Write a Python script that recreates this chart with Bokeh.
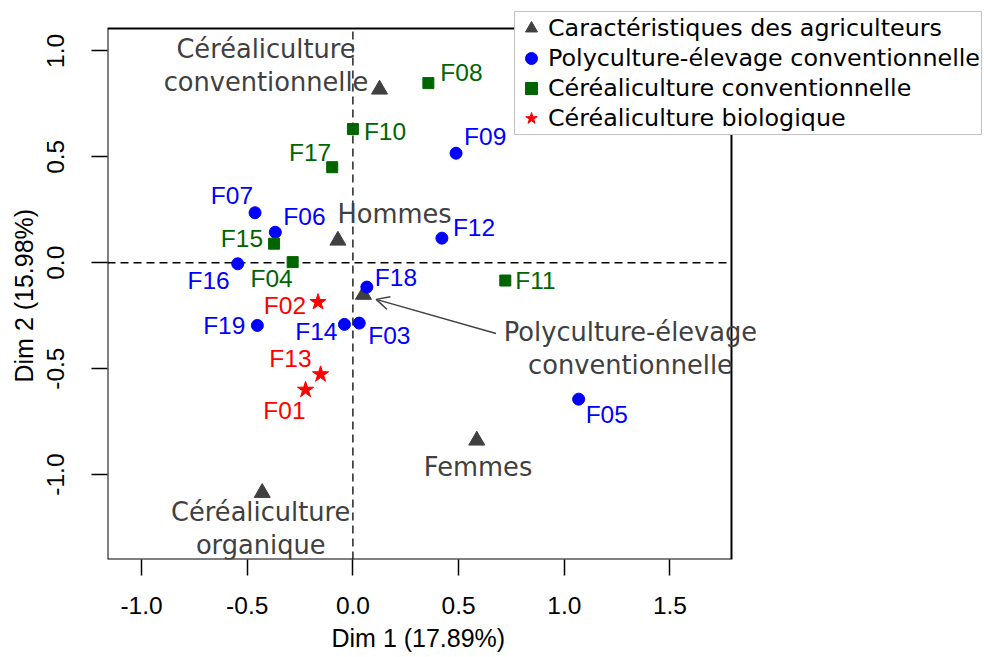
from bokeh.plotting import figure
from bokeh.models import (Range1d, FixedTicker, NumeralTickFormatter, Title,
                          Legend, LegendItem, LabelSet, ColumnDataSource, Arrow, OpenHead)
from bokeh.core.properties import value
from bokeh.embed import file_html
from bokeh.resources import INLINE

# ---------------- data ----------------
x_title = "Dim 1 (17.89%)"
y_title = "Dim 2 (15.98%)"
x_ticks = [-1.0, -0.5, 0.0, 0.5, 1.0, 1.5]
y_ticks = [-1.0, -0.5, 0.0, 0.5, 1.0]

series_labels = ["Caractéristiques des agriculteurs",
                 "Polyculture-élevage conventionnelle",
                 "Céréaliculture conventionnelle",
                 "Céréaliculture biologique"]

poly_names = ["F09", "F07", "F06", "F12", "F16", "F18", "F19", "F14", "F03", "F05"]
poly_x = [0.488, -0.463, -0.367, 0.421, -0.545, 0.066, -0.452, -0.040, 0.030, 1.068]
poly_y = [0.517, 0.236, 0.144, 0.116, -0.005, -0.115, -0.296, -0.291, -0.285, -0.644]

cconv_names = ["F08", "F10", "F17", "F15", "F04", "F11"]
cconv_x = [0.357, 0.000, -0.098, -0.373, -0.285, 0.721]
cconv_y = [0.848, 0.631, 0.451, 0.090, 0.003, -0.084]

bio_names = ["F02", "F13", "F01"]
bio_x = [-0.165, -0.153, -0.224]
bio_y = [-0.186, -0.527, -0.600]

char_names = ["Céréaliculture\nconventionnelle", "Hommes",
              "Polyculture-élevage\nconventionnelle", "Femmes",
              "Céréaliculture\norganique"]
char_x = [0.126, -0.071, 0.050, 0.586, -0.429]
char_y = [0.818, 0.105, -0.151, -0.839, -1.086]

# ---------------- styles / layout ----------------
C_CHAR = "#404040"
C_POLY = "#0000FF"
C_CCONV = "#006400"
C_BIO = "#FF0000"

# label placement: (align, dx px, dy px downwards)
LABEL_POS = {
    "F08": ("left", 12, -11), "F10": ("left", 11, 2), "F09": ("left", 8, -17),
    "F17": ("right", -1, -15), "F07": ("right", -2, -17), "F06": ("left", 8, -16),
    "F12": ("left", 11, -11), "F15": ("right", -11, -5), "F04": ("right", 0, 16),
    "F16": ("right", -8, 17), "F18": ("left", 8, -10), "F02": ("right", -12, 3),
    "F19": ("right", -12, 0), "F14": ("right", -7, 7), "F03": ("left", 9, 12),
    "F11": ("left", 10, 0), "F13": ("right", -9, -16), "F01": ("right", 0, 21),
    "F05": ("left", 7, 15),
}
# (dx, dy of first line) for the characteristic labels
CHAR_POS = [(-113.5, -40), (56.7, -26.7), (267, 37.4), (1.3, 26.7), (-1.5, 19.4)]
LINE_H = 32.5
ARROW = dict(x_start=0.677, y_start=-0.334, x_end=0.110, y_end=-0.173)

# plot box (data limits) and the wider drawing frame
BOX_X = (-1.161, 1.791)
BOX_Y = (-1.401, 1.106)
FRAME_X = (-1.161, 2.988)
FRAME_Y = (-1.401, 1.238)

p = figure(width=984, height=657,
           x_range=Range1d(*FRAME_X), y_range=Range1d(*FRAME_Y),
           output_backend="svg", toolbar_location=None,
           min_border_left=106, min_border_right=0, min_border_top=0, min_border_bottom=98,
           background_fill_color="white", border_fill_color="white",
           outline_line_color=None)
p.grid.visible = False

for ax in (p.xaxis[0], p.yaxis[0]):
    ax.axis_line_color = None
    ax.major_tick_out = 16
    ax.major_tick_in = 0
    ax.minor_tick_out = 0
    ax.minor_tick_in = 0
    ax.major_tick_line_color = "black"
    ax.major_tick_line_width = 1.5
    ax.major_label_text_font = "Liberation Sans"
    ax.major_label_text_font_size = "24.5px"
    ax.major_label_text_color = "black"
    ax.formatter = NumeralTickFormatter(format="0.0")

p.xaxis[0].major_label_standoff = 21
p.yaxis[0].major_label_standoff = 27
p.xaxis[0].ticker = FixedTicker(ticks=x_ticks)
p.yaxis[0].ticker = FixedTicker(ticks=y_ticks)
p.yaxis[0].major_label_orientation = "vertical"

# axis titles, positioned along the plot box
p.add_layout(Title(text=x_title, align="left", offset=224,
                   text_font="Liberation Sans", text_font_size="25px",
                   text_font_style="normal", text_color="black", standoff=10), "below")
p.add_layout(Title(text=y_title, align="left", offset=177,
                   text_font="Liberation Sans", text_font_size="25px",
                   text_font_style="normal", text_color="black", standoff=14), "left")

# plot box
p.quad(left=[BOX_X[0]], right=[BOX_X[1]], bottom=[BOX_Y[0]], top=[BOX_Y[1]],
       fill_alpha=0, line_color="black", line_width=2, level="underlay")

# dashed zero lines inside the box
p.segment(x0=[0, BOX_X[0]], y0=[BOX_Y[0], 0], x1=[0, BOX_X[1]], y1=[BOX_Y[1], 0],
          line_color="black", line_width=1.3, line_dash="8 5", level="underlay")

# points
r_char = p.scatter(char_x, char_y, marker="triangle", size=16, color=C_CHAR)
r_poly = p.scatter(poly_x, poly_y, marker="circle", size=12, color=C_POLY)
r_cconv = p.scatter(cconv_x, cconv_y, marker="square", size=11, color=C_CCONV)
r_bio = p.scatter(bio_x, bio_y, marker="star", size=17, color=C_BIO)

# point labels
lab = dict(x=[], y=[], t=[], c=[], dx=[], dy=[], al=[])
for names, xs, ys, col in ((poly_names, poly_x, poly_y, C_POLY),
                           (cconv_names, cconv_x, cconv_y, C_CCONV),
                           (bio_names, bio_x, bio_y, C_BIO)):
    for n, xv, yv in zip(names, xs, ys):
        al, dx, dy = LABEL_POS[n]
        lab["x"].append(xv); lab["y"].append(yv); lab["t"].append(n); lab["c"].append(col)
        lab["dx"].append(dx); lab["dy"].append(-dy); lab["al"].append(al)
p.add_layout(LabelSet(x="x", y="y", text="t", source=ColumnDataSource(lab),
                      x_offset="dx", y_offset="dy", text_align="al", text_baseline="middle",
                      text_color="c", text_font=value("Liberation Sans"),
                      text_font_size=value("24.5px")))

# characteristic labels
cl = dict(x=[], y=[], t=[], dx=[], dy=[])
for n, xv, yv, (dx, dy) in zip(char_names, char_x, char_y, CHAR_POS):
    for i, line in enumerate(n.split("\n")):
        cl["x"].append(xv); cl["y"].append(yv); cl["t"].append(line)
        cl["dx"].append(dx); cl["dy"].append(-(dy + i * LINE_H))
p.add_layout(LabelSet(x="x", y="y", text="t", source=ColumnDataSource(cl),
                      x_offset="dx", y_offset="dy", text_align="center", text_baseline="middle",
                      text_color=C_CHAR, text_font=value("DejaVu Sans"),
                      text_font_size=value("25.7px")))

p.add_layout(Arrow(end=OpenHead(size=13, line_color=C_CHAR, line_width=1.5),
                   line_color=C_CHAR, line_width=1.5, **ARROW))

legend = Legend(items=[LegendItem(label=series_labels[0], renderers=[r_char]),
                       LegendItem(label=series_labels[1], renderers=[r_poly]),
                       LegendItem(label=series_labels[2], renderers=[r_cconv]),
                       LegendItem(label=series_labels[3], renderers=[r_bio])],
                location=(407, 424), orientation="vertical",
                label_text_font="DejaVu Sans", label_text_font_size="23.8px",
                label_text_color="black",
                glyph_width=30, glyph_height=30, label_height=28,
                label_standoff=2, padding=1, spacing=0, margin=0,
                border_line_color="#888888", border_line_width=1.5,
                background_fill_color="white", background_fill_alpha=1)
p.add_layout(legend, "center")

open("out.html", "w").write(file_html(p, INLINE))
